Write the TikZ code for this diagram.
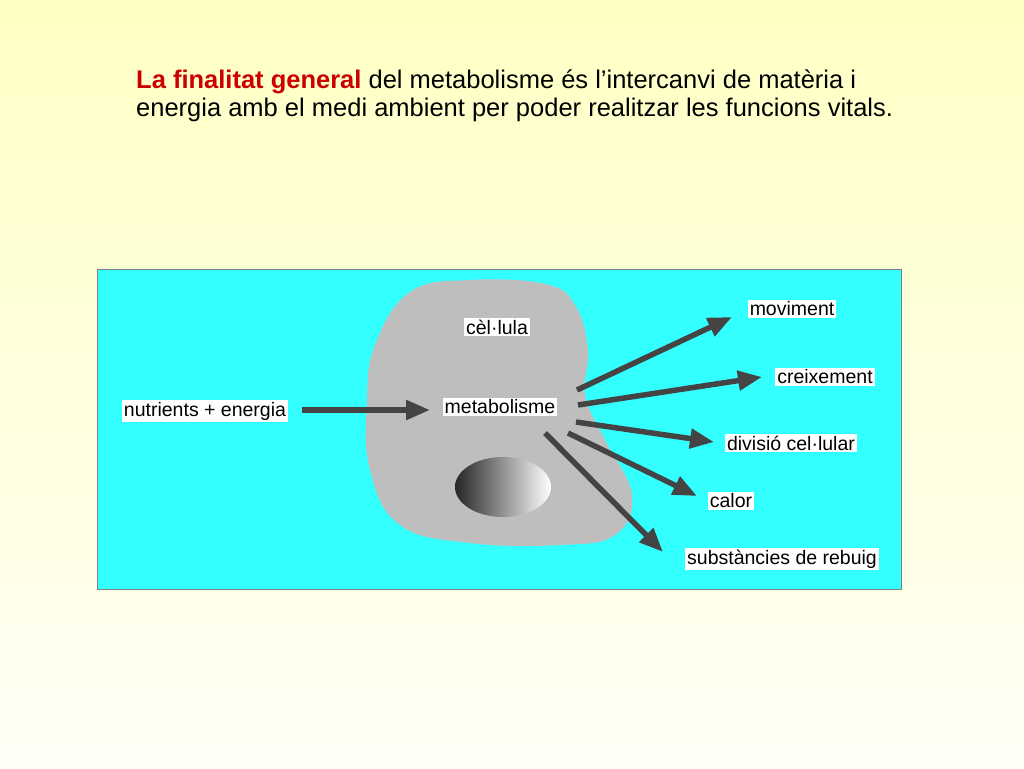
\documentclass[tikz,border=0pt]{standalone}
\usepackage{fontspec}
\setmainfont{Liberation Sans}
\usetikzlibrary{arrows.meta}
\definecolor{bgtop}{HTML}{FFFFC4}
\definecolor{bgbot}{HTML}{FFFFF6}
\definecolor{cyanbox}{HTML}{33FFFF}
\definecolor{cellg}{HTML}{BEBEBE}
\definecolor{arr}{HTML}{444444}
\definecolor{titred}{HTML}{CC0000}
\tikzset{
 lbl/.style={fill=white,inner sep=2pt,font=\fontsize{19.5}{22}\selectfont},
 bigarrow/.style={draw=arr,line width=5.5pt,-{Triangle[length=24pt,width=19pt]}}
}
\begin{document}
\begin{tikzpicture}[x=1pt,y=-1pt]
\shade[top color=bgtop,bottom color=bgbot] (0,0) rectangle (1024,768);
\useasboundingbox (0,0) rectangle (1024,768);
\node[anchor=north west,align=left,inner sep=0pt,font=\fontsize{25.5}{28}\selectfont] (title) at (136,70)
 {\textcolor{titred}{\textbf{La finalitat general}} del metabolisme és l\symbol{39}intercanvi de matèria i\\energia amb el medi ambient per poder realitzar les funcions vitals.};
\draw[draw=gray,fill=cyanbox,line width=1pt] (97,269) rectangle (901,589);
\fill[cellg] plot[smooth cycle,tension=0.7] coordinates {(410,292) (470,280) (545,284) (575,305) (588,350) (585,395) (605,440) (632,495) (615,535) (560,545) (470,543) (400,525) (370,470) (367,400) (375,345)};
\shade[left color=black!85,right color=white] (503,487) ellipse (48 and 30);
\node[lbl] (cell) at (497,327) {cèl·lula};
\node[lbl] (met) at (500,407) {metabolisme};
\node[lbl] (nut) at (205,411) {nutrients + energia};
\node[lbl] (mov) at (792,309) {moviment};
\node[lbl] (cre) at (825,377) {creixement};
\node[lbl] (div) at (791,443) {divisió cel·lular};
\node[lbl] (cal) at (731,501) {calor};
\node[lbl] (sub) at (782,559) {substàncies de rebuig};
\coordinate (n0) at (302,410);
\coordinate (n1) at (430,410);
\coordinate (m1) at (577,390); \coordinate (e1) at (732,317);
\coordinate (m2) at (578,405); \coordinate (e2) at (762,377);
\coordinate (m3) at (576,422); \coordinate (e3) at (714,442);
\coordinate (m4) at (568,433); \coordinate (e4) at (697,496);
\coordinate (m5) at (545,433); \coordinate (e5) at (663,552);
\draw[bigarrow] (n0) -- (n1);
\draw[bigarrow] (m1) -- (e1);
\draw[bigarrow] (m2) -- (e2);
\draw[bigarrow] (m3) -- (e3);
\draw[bigarrow] (m4) -- (e4);
\draw[bigarrow] (m5) -- (e5);
\end{tikzpicture}
\end{document}
